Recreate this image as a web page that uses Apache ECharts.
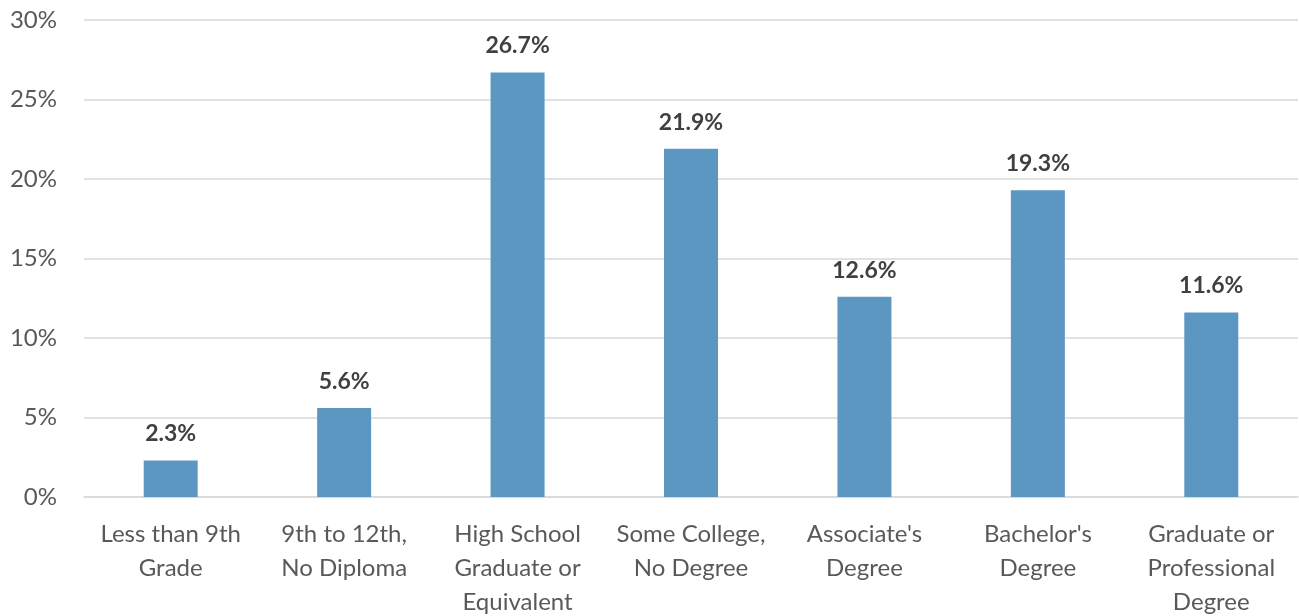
<!DOCTYPE html>
<html>
<head>
<meta charset="utf-8">
<script src="https://cdn.jsdelivr.net/npm/echarts@6/dist/echarts.min.js"></script>
<style>
  html, body { margin: 0; padding: 0; background: #fff; }
  #chart { width: 1299px; height: 616px; }
</style>
</head>
<body>
<div id="chart"></div>
<script>
// Educational attainment shares (percent)
const categories = [
  'Less than 9th\nGrade',
  '9th to 12th,\nNo Diploma',
  'High School\nGraduate or\nEquivalent',
  'Some College,\nNo Degree',
  "Associate's\nDegree",
  "Bachelor's\nDegree",
  'Graduate or\nProfessional\nDegree'
];
const shares = [2.3, 5.6, 26.7, 21.9, 12.6, 19.3, 11.6];
const yTicks = [0, 5, 10, 15, 20, 25, 30];

const font = 'Lato, "Open Sans", sans-serif';
const chart = echarts.init(document.getElementById('chart'));
chart.setOption({
  animation: false,
  grid: {
    left: 84, right: 1, top: 20, bottom: 119,
    containLabel: false, outerBoundsMode: 'none'
  },
  xAxis: {
    type: 'category',
    data: categories,
    axisTick: { show: false },
    axisLine: { lineStyle: { color: '#d9d9d9', width: 1.5 } },
    axisLabel: {
      color: '#595959', fontSize: 24, fontFamily: font,
      lineHeight: 34, margin: 20, interval: 0
    }
  },
  yAxis: {
    type: 'value',
    min: yTicks[0], max: yTicks[yTicks.length - 1], interval: 5,
    axisLine: { show: false },
    axisTick: { show: false },
    splitLine: { lineStyle: { color: '#d9d9d9', width: 1.5 } },
    axisLabel: {
      color: '#595959', fontSize: 24, fontFamily: font, margin: 27,
      formatter: v => v + '%'
    }
  },
  series: [{
    type: 'bar',
    data: shares,
    barWidth: 54,
    itemStyle: { color: '#5b97c1' },
    label: {
      show: true, position: 'top', distance: 15,
      color: '#404040', fontSize: 23, fontWeight: 'bold', fontFamily: font,
      formatter: p => p.value.toFixed(1) + '%'
    }
  }]
});
</script>
</body>
</html>
